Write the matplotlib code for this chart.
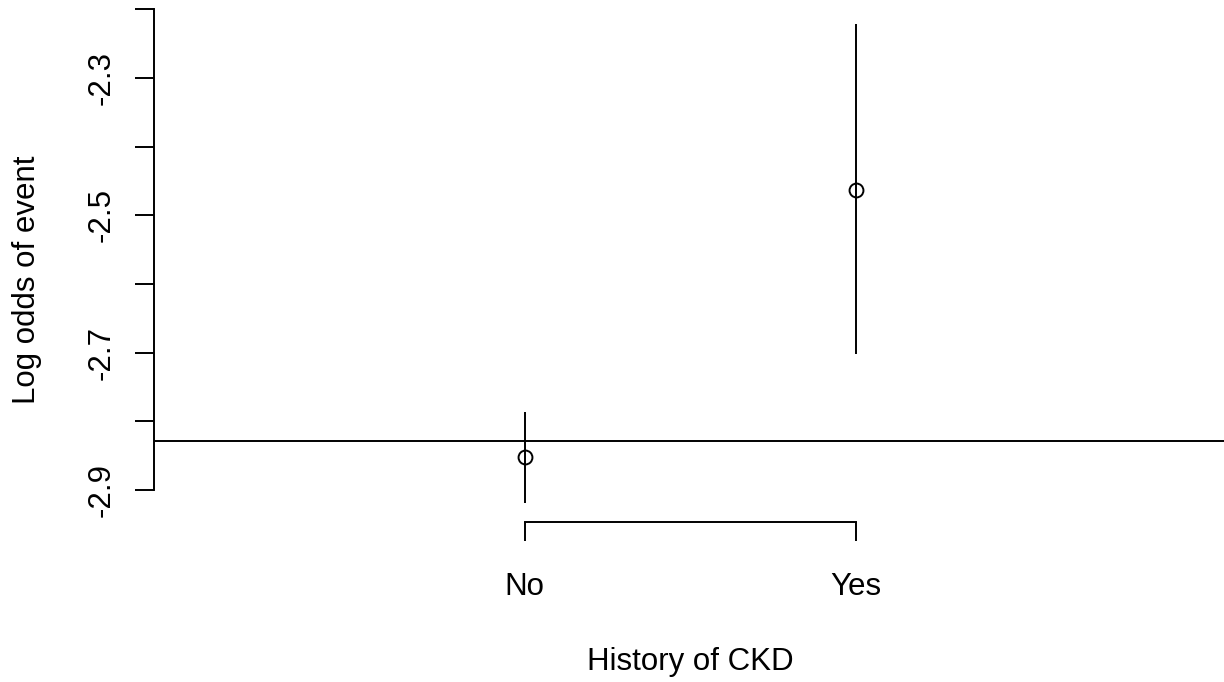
import matplotlib
matplotlib.use("Agg")
import matplotlib.pyplot as plt
import numpy as np

# Data
categories = ["No", "Yes"]
estimates = [-2.8515, -2.463]
ci_lower = [-2.919, -2.702]
ci_upper = [-2.786, -2.2216]
reference_line = -2.828
y_ticks = [-2.9, -2.8, -2.7, -2.6, -2.5, -2.4, -2.3, -2.2]
y_labels = ["-2.9", "", "-2.7", "", "-2.5", "", "-2.3", ""]
x_label = "History of CKD"
y_label = "Log odds of event"

W, H = 1224, 682
DPI = 100
plt.rcParams['font.family'] = ['Liberation Sans', 'DejaVu Sans']
FS = 22.5
LW = 1.4

fig = plt.figure(figsize=(W / DPI, H / DPI), dpi=DPI)
ax_top_px, ax_bot_px = 0, 510
ax_left_px, ax_right_px = 154, 1224
ax = fig.add_axes([ax_left_px / W, 1 - ax_bot_px / H,
                   (ax_right_px - ax_left_px) / W, (ax_bot_px - ax_top_px) / H])

xpos = np.arange(1, len(categories) + 1)
px_per_unit = 331.5
ax.set_xlim(1 - (524.5 - ax_left_px) / px_per_unit, 2 + (ax_right_px - 856) / px_per_unit)
px_per_val = 686.4
ax.set_ylim(-2.2 - (ax_bot_px - 9.5) / px_per_val, -2.2 + (9.5 - ax_top_px) / px_per_val)

ax.axhline(reference_line, color='black', lw=LW, zorder=1)
ax.vlines(xpos, ci_lower, ci_upper, color='black', lw=LW, clip_on=False, zorder=2)
ax.plot(xpos, estimates, 'o', mfc='none', mec='black', ms=10, mew=1.4, ls='none', zorder=3)

for s in ['top', 'right']:
    ax.spines[s].set_visible(False)
ax.spines['left'].set_bounds(-2.9, -2.2)
ax.spines['left'].set_linewidth(LW)
ax.spines['bottom'].set_bounds(1, 2)
ax.spines['bottom'].set_linewidth(LW)
ax.spines['bottom'].set_position(('outward', 12 * 0.72))

ax.set_yticks(y_ticks)
ax.set_yticklabels(y_labels, rotation=90, va='center', fontsize=FS)
ax.set_xticks(xpos)
ax.set_xticklabels(categories, fontsize=FS)
ax.tick_params(axis='both', direction='out', length=19 * 0.72, width=LW, color='black')
ax.tick_params(axis='y', pad=13)
ax.tick_params(axis='x', pad=22)

fig.text(27 / W, 1 - 280 / H, y_label, rotation=90, ha='center', va='center', fontsize=FS)
fig.text(690 / W, 1 - 670 / H, x_label, ha='center', va='baseline', fontsize=FS)

fig.savefig("out.png", dpi=DPI)
